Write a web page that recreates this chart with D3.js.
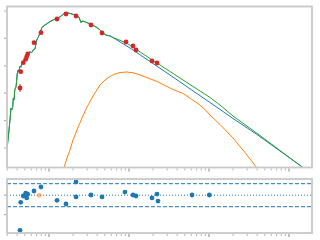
<!DOCTYPE html>
<html><head><meta charset="utf-8">
<script src="https://cdn.jsdelivr.net/npm/d3@7"></script>
<style>html,body{margin:0;padding:0;background:#fff;}svg{display:block;}</style>
</head><body>
<svg id="c" width="320" height="240"></svg>
<script>
// ---- data (wavelength in micron, log flux) ----
const specWave = [0.0299,0.0310,0.0325,0.0335,0.0344,0.0352,0.0358,0.0366,0.0373,0.0387,0.0395,0.0400,0.0413,0.0420,0.0434,0.0445,0.0456,0.0477,0.0490,0.0501,0.0515,0.0526,0.0540,0.0551,0.0579,0.0608,0.0637,0.0668,0.0702,0.0735,0.0772,0.0811,0.0849,0.0936,0.1029,0.1122,0.1296,0.1454,0.1585,0.1728,0.1939,0.2113,0.2371,0.2440,0.2512,0.2585,0.2738,0.3073,0.3447,0.3868,0.4340,0.4732,0.5158,0.5788,0.6131];
const specFlux = [-14.00,-13.60,-12.98,-12.54,-12.60,-12.50,-12.18,-12.25,-11.88,-11.77,-11.52,-11.30,-11.15,-11.22,-11.01,-11.05,-10.93,-10.85,-10.80,-10.75,-10.72,-10.68,-10.60,-10.53,-10.49,-10.52,-10.42,-10.39,-10.06,-9.95,-9.80,-9.62,-9.55,-9.47,-9.39,-9.33,-9.26,-9.16,-9.07,-9.07,-9.11,-9.15,-9.22,-9.33,-9.42,-9.37,-9.38,-9.44,-9.51,-9.58,-9.69,-9.80,-9.88,-9.91,-9.95];
const totalTailWave = [0.944,1.83,3.254,4.732,7.079,10.29,13.72,19.95,39.81,77.2,149.6,193.9];
const totalTailFlux = [-10.179,-10.734,-11.208,-11.518,-11.847,-12.157,-12.431,-12.832,-13.464,-14.091,-14.719,-14.949];
const starTailWave = [1.029,1.83,3.254,6.08,10.29,19.95,39.81,77.2,149.6,193.9];
const starTailFlux = [-10.350,-10.843,-11.336,-11.883,-12.339,-12.923,-13.507,-14.109,-14.712,-14.950];
const dustWave = [0.150,0.154,0.168,0.183,0.1995,0.2239,0.2585,0.2985,0.3548,0.434,0.501,0.579,0.668,0.772,0.944,1.155,1.372,1.728,2.239,2.818,3.447,4.732,6.13,7.718,8.913,10.29,13.72,19.95,28.18,39.81,42.17];
const dustFlux = [-14.876,-14.712,-14.365,-14.073,-13.708,-13.343,-12.905,-12.504,-12.102,-11.701,-11.518,-11.391,-11.299,-11.245,-11.226,-11.263,-11.336,-11.445,-11.573,-11.719,-11.847,-12.011,-12.230,-12.431,-12.595,-12.796,-13.142,-13.635,-14.164,-14.730,-14.876];
const obsWave = [0.0434,0.0443,0.0477,0.0511,0.0526,0.0542,0.0649,0.0794,0.1259,0.1631,0.2176,0.335,0.4597,0.917,1.122,1.223,1.939,2.239];
const obsFlux = [-11.810,-11.215,-10.887,-10.763,-10.668,-10.569,-10.157,-9.792,-9.292,-9.109,-9.182,-9.511,-9.803,-10.131,-10.277,-10.423,-10.825,-10.898];
const obsErr  = [0.146,0.06,0.05,0.05,0.05,0.05,0.05,0.05,0.05,0.05,0.05,0.05,0.05,0.05,0.05,0.05,0.05,0.05];
const resWave = [0.0434,0.0443,0.0477,0.0511,0.0542,0.0526,0.0649,0.0794,0.1259,0.1631,0.2176,0.2176,0.335,0.4597,0.891,1.122,1.223,1.939,2.239,2.304,6.13,10.09];
const resVal  = [-1.80,-0.364,-0.04,0.10,0.05,-0.14,0.215,0.42,-0.26,-0.45,0.68,-0.09,0.01,-0.09,0.16,0.01,-0.04,-0.14,0.06,-0.30,0.01,0.01];
const limWave = [0.0754];
const limVal  = [-0.005];
const yTicks = [-14,-13,-12,-11,-10,-9];
const resTicks = [-1,0];
const resBands = [0.59,-0.59];

// ---- layout ----
const svg = d3.select("#c");
const L = 7, R = 312;
const T1 = 6.5, B1 = 167.5, T2 = 179, B2 = 233;
const x = d3.scaleLog().domain([0.02985, 193.9]).range([L, R]);
const y = d3.scaleLinear().domain([-14.712, -8.836]).range([B1, T1]);
const yr = d3.scaleLinear().domain([-1.938, 0.831]).range([B2, T2]);
const frame = "#c8c8c8", tickC = "#b4b4b4";

const defs = svg.append("defs");
defs.append("clipPath").attr("id","cp1").append("rect").attr("x",L).attr("y",T1).attr("width",R-L).attr("height",B1-T1);
defs.append("clipPath").attr("id","cp2").append("rect").attr("x",L).attr("y",T2).attr("width",R-L).attr("height",B2-T2);

function xTicks(g, yy) {
  const tv = x.ticks();
  tv.forEach(v => {
    const lg = Math.log10(v);
    const major = Math.abs(lg - Math.round(lg)) < 1e-6;
    g.append("line").attr("x1", x(v)).attr("x2", x(v)).attr("y1", yy).attr("y2", yy + (major ? 3 : 2))
      .attr("stroke", tickC).attr("stroke-width", major ? 1.6 : 1);
  });
}

// top panel
const p1 = svg.append("g");
const c1 = p1.append("g").attr("clip-path","url(#cp1)");
const line = d3.line().x(d => x(d[0])).y(d => y(d[1]));
const dust = dustWave.map((w,i)=>[w,dustFlux[i]]);
const star = specWave.map((w,i)=>[w,specFlux[i]]).concat(starTailWave.map((w,i)=>[w,starTailFlux[i]]));
const total = specWave.map((w,i)=>[w,specFlux[i]]).concat(totalTailWave.map((w,i)=>[w,totalTailFlux[i]]));
c1.append("path").attr("d", line(dust)).attr("fill","none").attr("stroke","#ff7f0e").attr("stroke-width",1);
c1.append("path").attr("d", line(star)).attr("fill","none").attr("stroke","#1f77b4").attr("stroke-width",1);
c1.append("path").attr("d", line(total)).attr("fill","none").attr("stroke","#2ca02c").attr("stroke-width",1);
obsWave.forEach((w,i) => {
  c1.append("line").attr("x1",x(w)).attr("x2",x(w)).attr("y1",y(obsFlux[i]-obsErr[i])).attr("y2",y(obsFlux[i]+obsErr[i]))
    .attr("stroke","#d62728").attr("stroke-width",1);
  c1.append("circle").attr("cx",x(w)).attr("cy",y(obsFlux[i])).attr("r",2.4).attr("fill","#d62728");
});
p1.append("rect").attr("x",L).attr("y",T1).attr("width",R-L).attr("height",B1-T1)
  .attr("fill","none").attr("stroke",frame).attr("stroke-width",1.8);
yTicks.forEach(v => p1.append("line").attr("x1",L-3).attr("x2",L-1).attr("y1",y(v)).attr("y2",y(v)).attr("stroke",tickC).attr("stroke-width",1.2));
xTicks(p1, B1+1);

// residual panel
const p2 = svg.append("g");
const c2 = p2.append("g").attr("clip-path","url(#cp2)");
resBands.forEach(v => c2.append("line").attr("x1",L).attr("x2",R).attr("y1",yr(v)).attr("y2",yr(v))
  .attr("stroke","#1f77b4").attr("stroke-width",1).attr("stroke-dasharray","4,2"));
c2.append("line").attr("x1",L).attr("x2",R).attr("y1",yr(0)).attr("y2",yr(0))
  .attr("stroke","#1f77b4").attr("stroke-width",1).attr("stroke-dasharray","1,2");
resWave.forEach((w,i) => c2.append("circle").attr("cx",x(w)).attr("cy",yr(resVal[i])).attr("r",2.4).attr("fill","#1f77b4"));
limWave.forEach((w,i) => c2.append("circle").attr("cx",x(w)).attr("cy",yr(limVal[i])).attr("r",2.4).attr("fill","#ff7f0e").attr("opacity",0.55));
p2.append("rect").attr("x",L).attr("y",T2).attr("width",R-L).attr("height",B2-T2)
  .attr("fill","none").attr("stroke",frame).attr("stroke-width",1.8);
resTicks.forEach(v => p2.append("line").attr("x1",L-3).attr("x2",L-1).attr("y1",yr(v)).attr("y2",yr(v)).attr("stroke",tickC).attr("stroke-width",1.2));
xTicks(p2, B2+1);
</script>
</body></html>
